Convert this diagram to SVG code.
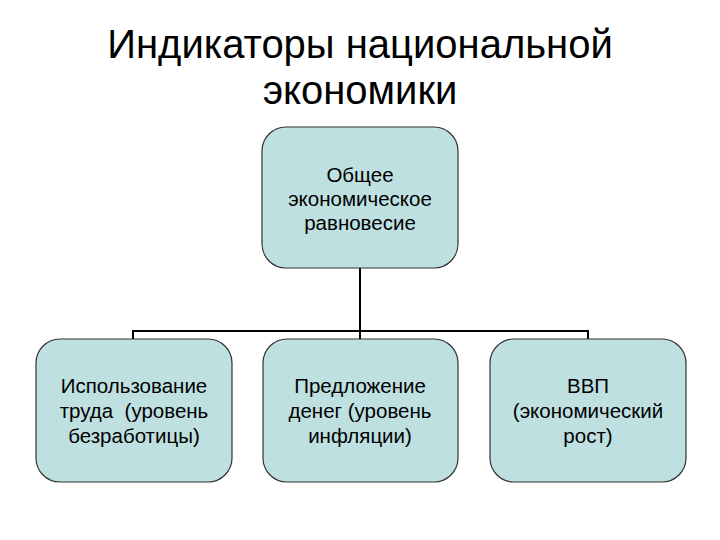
<svg xmlns="http://www.w3.org/2000/svg" width="720" height="540" viewBox="0 0 720 540">
<style>
.box{fill:#bfe0e1;stroke:#333;stroke-width:1.2}
.t{font-family:"Liberation Sans",Arial,sans-serif;font-size:20.5px;fill:#000;text-anchor:middle;white-space:pre}
.title{font-family:"Liberation Sans",Arial,sans-serif;font-size:40px;fill:#000;text-anchor:middle}
.c{stroke:#000;fill:none;stroke-width:2}
</style>
<rect width="720" height="540" fill="#fff"/>
<g id="title">
<text class="title" x="360" y="58">Индикаторы национальной</text>
<text class="title" x="360" y="104">экономики</text>
</g>
<g id="connectors">
<line class="c" x1="360" y1="268" x2="360" y2="331" stroke-width="3"/>
<polyline class="c" points="133,339 133,331 588,331 588,339"/>
<line class="c" x1="360" y1="331" x2="360" y2="339"/>
</g>
<g id="root">
<rect class="box" x="262" y="127" width="196" height="141" rx="24"/>
<text class="t" x="360" y="182">Общее</text>
<text class="t" x="360" y="206">экономическое</text>
<text class="t" x="360" y="230">равновесие</text>
</g>
<g id="n1">
<rect class="box" x="36" y="339" width="196" height="143" rx="24"/>
<text class="t" x="134" y="393">Использование</text>
<text class="t" x="134" y="418" xml:space="preserve">труда  (уровень</text>
<text class="t" x="134" y="443">безработицы)</text>
</g>
<g id="n2">
<rect class="box" x="263" y="339" width="195" height="143" rx="24"/>
<text class="t" x="360" y="393">Предложение</text>
<text class="t" x="360" y="418">денег (уровень</text>
<text class="t" x="360" y="443">инфляции)</text>
</g>
<g id="n3">
<rect class="box" x="490" y="339" width="196" height="143" rx="24"/>
<text class="t" x="588" y="393">ВВП</text>
<text class="t" x="588" y="418">(экономический</text>
<text class="t" x="588" y="443">рост)</text>
</g>
</svg>
